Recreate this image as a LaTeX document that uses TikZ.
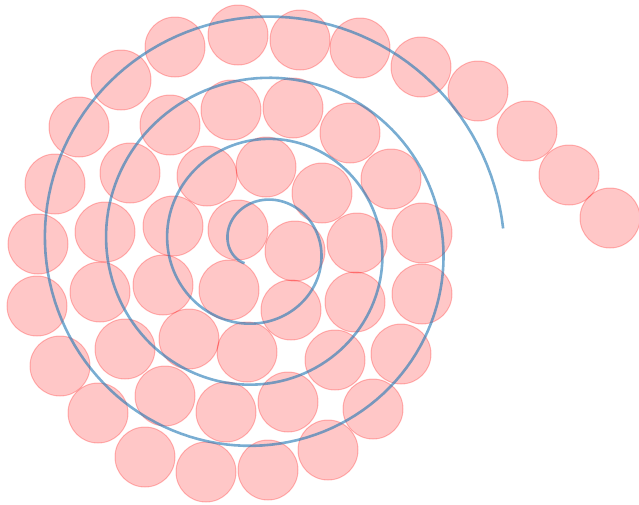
\documentclass[tikz,border=0pt]{standalone}
\usepackage{tikz}
\definecolor{spiralblue}{RGB}{31,119,180}

\begin{document}
\begin{tikzpicture}[x=1pt, y=-1pt,
    disc/.style={fill=red, fill opacity=0.22, draw=red, draw opacity=0.25, line width=1pt},
    spiral/.style={spiralblue, opacity=0.6, line width=2.6pt}]
  % Frame of the picture
  \useasboundingbox (0,0) rectangle (639,504);
  % Discs along the spiral, from the outer end inwards
  \foreach \cx/\cy in {610/218, 569/175, 527/131, 478/91, 421/67, 360/48, 300/40, 238/35,
      175/47, 121/80, 79/127, 55/184, 38/244, 37/306, 60/366, 98/413,
      145/457, 206/472, 268/470, 328/450, 373/409, 401/354, 422/294, 422/233,
      391/179, 350/133, 293/108, 231/110, 170/125, 130/173, 105/232, 100/292,
      125/349, 165/396, 226/412, 288/402, 335/360, 355/302, 357/243, 322/193,
      266/167, 207/176, 173/226, 163/285, 189/339, 247/352, 291/310, 295/251,
      238/230, 229/290}
    \draw[disc] (\cx,\cy) circle[radius=30];
  % Archimedean spiral
  \draw[spiral] plot[domain=2.3:25.06, samples=500]
    ({259.5 + 9.75*\x*cos(\x r)}, {246.5 + 9.75*\x*sin(\x r)});
\end{tikzpicture}
\end{document}
